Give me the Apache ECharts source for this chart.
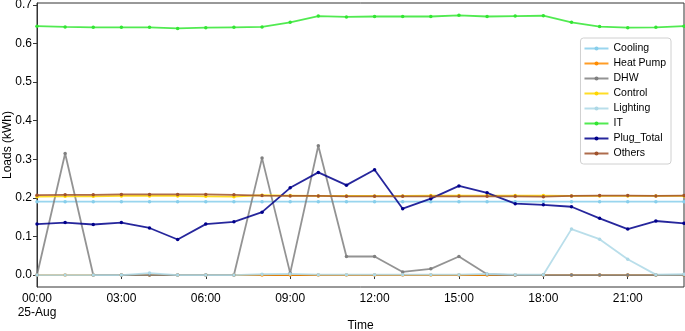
<!DOCTYPE html>
<html>
<head>
<meta charset="utf-8">
<script src="https://cdn.jsdelivr.net/npm/echarts@6/dist/echarts.min.js"></script>
<style>
  html, body { margin: 0; padding: 0; background: #fff; }
  #main { width: 685px; height: 331px; }
</style>
</head>
<body>
<div id="main"></div>
<script>
var hours = ['00:00', '01:00', '02:00', '03:00', '04:00', '05:00', '06:00', '07:00',
    '08:00', '09:00', '10:00', '11:00', '12:00', '13:00', '14:00', '15:00',
    '16:00', '17:00', '18:00', '19:00', '20:00', '21:00', '22:00', '23:00'];
var yTicks = [0, 0.1, 0.2, 0.3, 0.4, 0.5, 0.6, 0.7];

var cooling = [0.19, 0.19, 0.19, 0.19, 0.19, 0.19, 0.19, 0.19, 0.19, 0.19, 0.19, 0.19,
    0.19, 0.19, 0.19, 0.19, 0.19, 0.19, 0.19, 0.19, 0.19, 0.19, 0.19, 0.19];
var heatPump = [0, 0, 0, 0, 0, 0, 0, 0, 0, 0, 0, 0, 0, 0, 0, 0, 0, 0, 0, 0, 0, 0, 0, 0];
var dhw = [0, 0.315, 0, 0, 0, 0, 0, 0, 0.303, 0.005, 0.335, 0.048,
    0.048, 0.008, 0.016, 0.048, 0.002, 0, 0, 0, 0, 0, 0, 0];
var control = [0.203, 0.204, 0.204, 0.205, 0.205, 0.205, 0.204, 0.203, 0.207, 0.206, 0.205, 0.205,
    0.205, 0.205, 0.206, 0.206, 0.206, 0.206, 0.206, 0.205, 0.205, 0.205, 0.205, 0.205];
var lighting = [0, 0, 0, 0, 0.005, 0, 0, 0, 0.002, 0.003, 0.001, 0.001,
    0.001, 0.001, 0.001, 0.001, 0.003, 0.001, 0.001, 0.119, 0.093, 0.041, 0.001, 0.002];
var it = [0.645, 0.643, 0.642, 0.642, 0.642, 0.639, 0.641, 0.642, 0.643, 0.655, 0.671, 0.669,
    0.670, 0.670, 0.670, 0.673, 0.670, 0.671, 0.672, 0.655, 0.644, 0.641, 0.642, 0.645];
var plugTotal = [0.132, 0.136, 0.131, 0.136, 0.122, 0.092, 0.132, 0.138, 0.163, 0.226, 0.266, 0.233,
    0.273, 0.172, 0.198, 0.231, 0.213, 0.185, 0.182, 0.177, 0.147, 0.119, 0.140, 0.134];
var others = [0.207, 0.208, 0.208, 0.209, 0.209, 0.209, 0.209, 0.208, 0.206, 0.205, 0.205, 0.204,
    0.204, 0.204, 0.204, 0.204, 0.204, 0.204, 0.203, 0.205, 0.206, 0.206, 0.205, 0.206];

var chartDom = document.getElementById('main');
var myChart = echarts.init(chartDom);
var option;

function line(name, data, color) {
    return {
        name: name,
        type: 'line',
        data: data,
        symbol: 'circle',
        symbolSize: 3.5,
        showSymbol: true,
        color: color,
        lineStyle: { width: 1.8, opacity: 0.85 },
        itemStyle: { color: color },
        animation: false
    };
}

option = {
    textStyle: { fontFamily: 'Liberation Sans, Arial, sans-serif' },
    grid: {
        left: 37,
        right: 1,
        top: 3,
        bottom: 44,
        outerBoundsMode: 'none',
        containLabel: false,
        show: true,
        borderColor: '#333',
        borderWidth: 1
    },
    legend: {
        orient: 'vertical',
        right: 14,
        top: 38,
        itemWidth: 24,
        itemHeight: 5,
        itemGap: 4,
        padding: [5, 5, 5, 3],
        borderColor: '#d0d0d0',
        borderWidth: 1,
        borderRadius: 3,
        backgroundColor: '#fff',
        textStyle: { fontSize: 10.5, color: '#000', lineHeight: 11 },
        data: ['Cooling', 'Heat Pump', 'DHW', 'Control', 'Lighting', 'IT', 'Plug_Total', 'Others']
    },
    xAxis: {
        type: 'category',
        data: hours,
        boundaryGap: false,
        name: 'Time',
        nameLocation: 'middle',
        nameGap: 33,
        nameMoveOverlap: false,
        nameTextStyle: { fontSize: 12, color: '#000' },
        axisLine: { lineStyle: { color: '#333' } },
        axisTick: { interval: 2, length: 4, lineStyle: { color: '#333' } },
        axisLabel: {
            interval: 2,
            fontSize: 12,
            lineHeight: 14,
            color: '#000',
            margin: 5,
            formatter: function (v, i) {
                return i === 0 ? v + '\n25-Aug' : v;
            }
        },
        splitLine: { show: false }
    },
    yAxis: {
        type: 'value',
        min: -0.031,
        max: 0.705,
        name: 'Loads (kWh)',
        nameLocation: 'middle',
        nameGap: 23,
        nameMoveOverlap: false,
        nameTextStyle: { fontSize: 12, color: '#000' },
        axisLine: { show: true, lineStyle: { color: '#333' } },
        axisTick: { show: true, length: 4, customValues: yTicks, lineStyle: { color: '#333' } },
        axisLabel: {
            fontSize: 12,
            color: '#000',
            margin: 5,
            customValues: yTicks,
            formatter: function (v) { return v.toFixed(1); }
        },
        splitLine: { show: false }
    },
    series: [
        line('Cooling', cooling, '#87ceeb'),
        line('Heat Pump', heatPump, '#ff8c00'),
        line('DHW', dhw, '#808080'),
        line('Control', control, '#ffd700'),
        line('Lighting', lighting, '#add8e6'),
        line('IT', it, '#32e632'),
        line('Plug_Total', plugTotal, '#00008b'),
        line('Others', others, '#a0522d')
    ]
};

option && myChart.setOption(option);
</script>
</body>
</html>
